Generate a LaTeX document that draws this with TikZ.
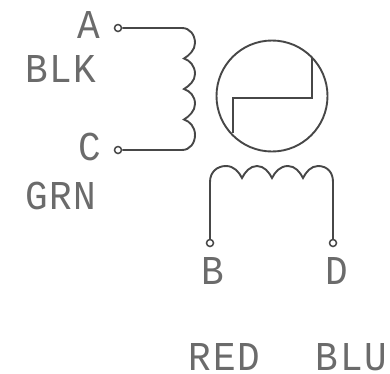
\documentclass[tikz,border=0pt]{standalone}
\usepackage{fontspec}
\setmainfont[FakeStretch=0.92,LetterSpace=4]{Liberation Mono}
\tikzset{
  wire/.style={draw=black!72,line width=1.9pt},
  term/.style={circle,draw=black!72,line width=1.5pt,fill=white,inner sep=0pt,minimum size=7pt},
  lbl/.style={anchor=base,inner sep=0pt,text=black!58,font=\fontsize{41}{41}\selectfont},
}
\begin{document}
\begin{tikzpicture}[x=1pt,y=-1pt]
\useasboundingbox (0,0) rectangle (390,373);
% labels
\node[lbl] (la) at (89,38) {A};
\node[lbl] (lblk) at (61,82) {BLK};
\node[lbl] (lc) at (89.5,160) {C};
\node[lbl] (lgrn) at (61,209) {GRN};
\node[lbl] (lb) at (212.5,284) {B};
\node[lbl] (ld) at (336.5,284) {D};
\node[lbl] (lred) at (224.5,370) {RED};
\node[lbl] (lblu) at (351.5,370) {BLU};
% left coil
\node[term] (A) at (118,28) {};
\node[term] (C) at (118,150) {};
\coordinate (a0) at (182,28);
\coordinate (m1) at (195,43);
\coordinate (a1) at (184,58.5);
\coordinate (m2) at (195,74);
\coordinate (a2) at (184,89);
\coordinate (m3) at (195,104);
\coordinate (a3) at (184,119.5);
\coordinate (m4) at (195,135);
\coordinate (a4) at (182,150);
\draw[wire] (A) -- (a0)
  .. controls +(8,0) and +(0,-8) .. (m1) .. controls +(0,7) and +(5,-3) .. (a1)
  .. controls +(6,2) and +(0,-8) .. (m2) .. controls +(0,7) and +(5,-3) .. (a2)
  .. controls +(6,2) and +(0,-8) .. (m3) .. controls +(0,7) and +(5,-3) .. (a3)
  .. controls +(6,2) and +(0,-8) .. (m4) .. controls +(0,8) and +(8,0) .. (a4)
  -- (C);
% rotor
\node[circle,draw=black!72,line width=1.9pt,inner sep=0pt,minimum size=111pt] (R) at (272,96) {};
\coordinate (z1) at (312,58);
\coordinate (z2) at (312,98);
\coordinate (z3) at (233,98);
\coordinate (z4) at (233,133);
\draw[wire,line width=2.1pt] (z1) -- (z2) -- (z3) -- (z4);
% lower coil
\node[term] (B) at (210,243) {};
\node[term] (D) at (333,243) {};
\coordinate (s0) at (210,182);
\coordinate (t1) at (226,166);
\coordinate (b1) at (242,178);
\coordinate (t2) at (257,166);
\coordinate (b2) at (272,178);
\coordinate (t3) at (288,166);
\coordinate (b3) at (303,178);
\coordinate (t4) at (318,166);
\coordinate (s1) at (333,182);
\draw[wire] (B) -- (s0) .. controls +(0,-10) and +(-9,0) .. (t1)
  .. controls +(8,0) and +(-3,-6) .. (b1)
  .. controls +(3,-6) and +(-7,0) .. (t2)
  .. controls +(7,0) and +(-3,-6) .. (b2)
  .. controls +(3,-6) and +(-8,0) .. (t3)
  .. controls +(7,0) and +(-3,-6) .. (b3)
  .. controls +(3,-6) and +(-7,0) .. (t4)
  .. controls +(9,0) and +(0,-10) .. (s1) -- (D);
\end{tikzpicture}
\end{document}
